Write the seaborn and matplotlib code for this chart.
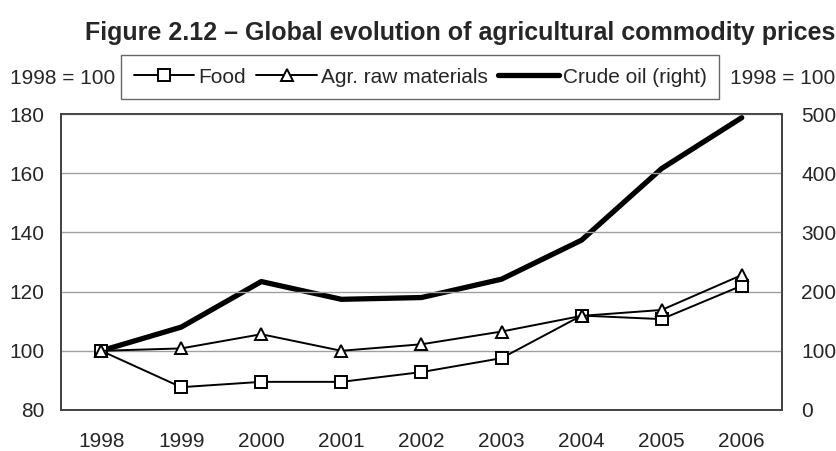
import matplotlib
matplotlib.use("Agg")
import matplotlib.pyplot as plt
import seaborn as sns
import pandas as pd

# Data
years = [1998, 1999, 2000, 2001, 2002, 2003, 2004, 2005, 2006]
food = [100, 87.7, 89.5, 89.5, 92.8, 97.5, 111.9, 110.7, 122.0]
agr_raw = [100, 100.8, 105.6, 100.0, 102.2, 106.5, 111.8, 113.8, 125.6]
crude_oil = [100, 140, 217, 187, 190, 221, 287, 408, 494]

df = pd.DataFrame({"year": years, "Food": food,
                   "Agr. raw materials": agr_raw, "Crude oil (right)": crude_oil})

sns.set_theme(style="white")
plt.rcParams["font.family"] = ["Liberation Sans", "DejaVu Sans"]

fig, ax = plt.subplots(figsize=(8.37, 4.51), dpi=100)
fig.subplots_adjust(left=0.073, right=0.934, top=0.747, bottom=0.091)
ax2 = ax.twinx()

sns.lineplot(data=df, x="year", y="Food", ax=ax, color="black", lw=1.4,
             marker="s", markersize=9, markerfacecolor="white",
             markeredgecolor="black", markeredgewidth=1.4, label="Food", legend=False)
sns.lineplot(data=df, x="year", y="Agr. raw materials", ax=ax, color="black", lw=1.4,
             marker="^", markersize=9, markerfacecolor="white",
             markeredgecolor="black", markeredgewidth=1.4,
             label="Agr. raw materials", legend=False)
sns.lineplot(data=df, x="year", y="Crude oil (right)", ax=ax2, color="black", lw=3.8,
             label="Crude oil (right)", legend=False, zorder=1)
ax.set_zorder(ax2.get_zorder() + 1)
ax.patch.set_visible(False)

# Axes
ax.set_xlim(1997.5, 2006.5)
ax.set_ylim(80, 180)
ax2.set_ylim(0, 500)
ax.set_xticks(years)
ax.set_xticklabels([str(y) for y in years])
ax.set_yticks(range(80, 181, 20))
ax2.set_yticks(range(0, 501, 100))
ax.set_xlabel("")
ax.set_ylabel("")
ax2.set_ylabel("")
ax.tick_params(axis="x", length=0, labelsize=15, pad=16)
ax.tick_params(axis="y", length=0, labelsize=15, pad=12)
ax2.tick_params(axis="y", length=0, labelsize=15, pad=14)
ax.yaxis.grid(True, color="#a0a0a0", lw=1)
ax.set_axisbelow(True)
for a in (ax, ax2):
    for s in a.spines.values():
        s.set_color("#404040")
        s.set_linewidth(1.2)

# Legend
h1, l1 = ax.get_legend_handles_labels()
h2, l2 = ax2.get_legend_handles_labels()
leg = fig.legend(h1 + h2, l1 + l2, ncol=3, loc="center", bbox_to_anchor=(0.502, 0.829),
                 fontsize=15, frameon=True, fancybox=False, handlelength=2.9,
                 columnspacing=0.5, handletextpad=0.2, borderpad=0.6)
leg.get_frame().set_edgecolor("#404040")
leg.get_frame().set_linewidth(1.0)

fig.text(0.012, 0.827, "1998 = 100", fontsize=15, va="center", ha="left")
fig.text(0.998, 0.827, "1998 = 100", fontsize=15, va="center", ha="right")
fig.text(0.55, 0.927, "Figure 2.12 \u2013 Global evolution of agricultural commodity prices",
         ha="center", va="center", fontsize=18, fontweight="bold")

plt.savefig("out.png", dpi=100)
